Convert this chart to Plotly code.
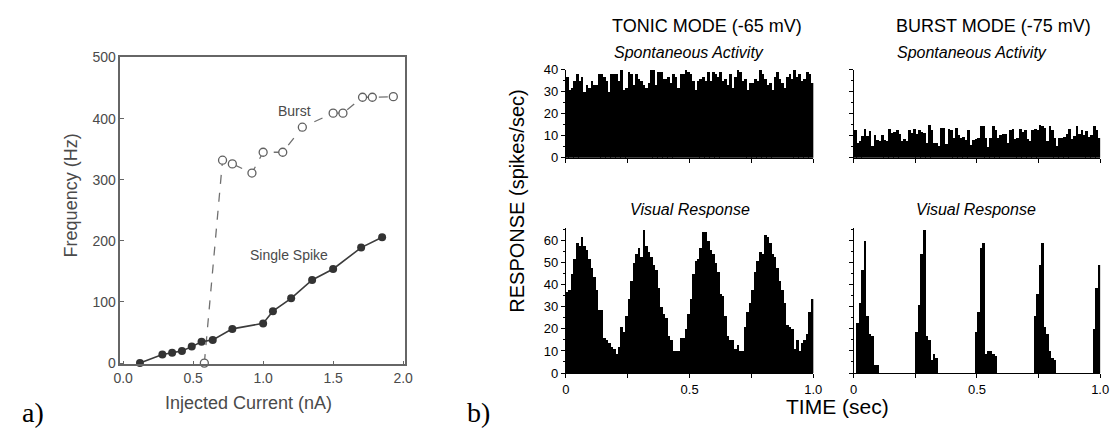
import plotly.graph_objects as go

# ---------------- data ----------------
# Panel a: frequency vs injected current
single_current = [0.12, 0.28, 0.35, 0.42, 0.49, 0.56, 0.64, 0.78, 1.00, 1.07, 1.20, 1.35, 1.50, 1.70, 1.85]
single_freq = [0, 14, 17, 20, 27, 35, 38, 56, 65, 85, 106, 136, 154, 189, 206]
burst_current = [0.58, 0.71, 0.78, 0.92, 1.00, 1.14, 1.28, 1.50, 1.57, 1.71, 1.78, 1.93]
burst_freq = [0, 332, 326, 311, 345, 345, 386, 409, 409, 435, 435, 436]

# Panel b: PSTHs, 100 bins of 10 ms over 1 s
bin_centers = [(i + 0.5) / 100 for i in range(100)]
tonic_spont = [37, 31, 32, 35, 38, 35, 37, 30, 33, 32,
               35, 33, 33, 38, 38, 37, 35, 30, 38, 38,
               38, 35, 40, 31, 32, 39, 38, 33, 38, 36,
               35, 33, 32, 34, 40, 40, 33, 39, 39, 36,
               36, 37, 34, 38, 37, 32, 38, 38, 40, 39,
               38, 35, 31, 35, 36, 37, 35, 39, 35, 39,
               38, 37, 39, 35, 36, 33, 38, 32, 37, 40,
               39, 35, 36, 31, 34, 34, 36, 35, 40, 38,
               36, 33, 34, 31, 37, 39, 36, 34, 32, 37,
               38, 36, 40, 37, 38, 35, 36, 39, 38, 34]
burst_spont = [12.5, 7, 7.8, 10, 13.2, 10, 12.2, 5.6, 10.4, 8,
               7.8, 10.4, 8, 7.5, 13.3, 11.4, 11.9, 12.9, 10.7, 7.8,
               8.5, 7.8, 12.9, 11.4, 13.3, 10.7, 12.9, 11.9, 11.4, 7,
               15, 12.9, 7, 6.6, 5.6, 13.6, 13.6, 6.3, 13.3, 12.9,
               9.2, 13.6, 10.4, 9.2, 9.5, 8, 12.9, 6, 8, 8.5,
               9, 14.7, 14.4, 9.2, 5.1, 9.2, 14.4, 12.9, 9.2, 10.4,
               10.7, 11, 7, 12.5, 13.3, 8.5, 9.2, 13.3, 11.9, 12.5,
               8.5, 7.8, 12.9, 13.3, 12.9, 14.8, 14.4, 13.6, 7.8, 14.4,
               12.9, 9.2, 5.6, 9.2, 9.2, 9.5, 11, 13.3, 8.5, 10,
               14.4, 10.7, 12.9, 10.4, 12.2, 9.5, 10.4, 14.4, 12.9, 9.2]
tonic_visual = [37, 38, 45, 52, 59, 58, 62, 58, 56, 52,
                48, 44, 38, 29, 29, 16, 15, 14, 12, 11,
                9, 12, 21, 19, 26, 34, 42, 50, 54, 57,
                53, 65, 58, 55, 53, 49, 47, 39, 30, 27,
                25, 17, 15, 10, 10, 10, 16, 16, 20, 27,
                34, 45, 51, 52, 57, 64, 64, 60, 56, 54,
                50, 46, 36, 35, 26, 17, 15, 15, 11, 13,
                10, 10, 21, 28, 32, 38, 46, 51, 55, 54,
                63, 62, 59, 54, 53, 48, 42, 38, 32, 22,
                21, 20, 11, 15, 10, 14, 15, 18, 28, 34]
burst_visual = [0, 23, 32, 47, 60, 26, 18, 17, 4, 4,
                0, 0, 0, 0, 0, 0, 0, 0, 0, 0,
                0, 0, 0, 0, 0, 19, 31, 54, 65, 17,
                15, 6, 9, 7, 0, 0, 0, 0, 0, 0,
                0, 0, 0, 0, 0, 0, 0, 0, 0, 19,
                28, 57, 59, 9, 10, 10, 9, 8, 0, 0,
                0, 0, 0, 0, 0, 0, 0, 0, 0, 0,
                0, 0, 0, 26, 36, 49, 59, 21, 18, 10,
                7, 6, 0, 0, 0, 0, 0, 0, 0, 0,
                0, 0, 0, 0, 0, 0, 0, 20, 39, 49]

a_xticks = [0, 0.5, 1.0, 1.5, 2.0]
a_xticklabels = ["0.0", "0.5", "1.0", "1.5", "2.0"]
a_yticks = [0, 100, 200, 300, 400, 500]
b_xticks = [0, 0.25, 0.5, 0.75, 1.0]
b_xticklabels = ["0", "", "0.5", "", "1.0"]

# ---------------- layout helpers ----------------
W, H = 1120, 438
def fx(p):
    return p / W
def fy(p):
    return 1 - p / H

SANS = "Liberation Sans, Arial, sans-serif"
GREY_TXT = "#4a4a4a"

fig = go.Figure()

# Panel a traces
fig.add_trace(go.Scatter(
    x=burst_current, y=burst_freq, mode="lines+markers",
    line=dict(color="#707070", width=1.3, dash="dash"),
    marker=dict(symbol="circle", size=8, color="white", line=dict(color="#606060", width=1.3)),
    xaxis="x", yaxis="y", showlegend=False, cliponaxis=False))
fig.add_trace(go.Scatter(
    x=single_current, y=single_freq, mode="lines+markers",
    line=dict(color="#3c3c3c", width=1.6),
    marker=dict(symbol="circle", size=8, color="#333333"),
    xaxis="x", yaxis="y", showlegend=False, cliponaxis=False))

# Panel b bars (slightly overlapping so no seams appear)
bar_sets = [(tonic_spont, "x2", "y2"), (burst_spont, "x3", "y3"),
            (tonic_visual, "x4", "y4"), (burst_visual, "x5", "y5")]
for vals, xa, ya in bar_sets:
    fig.add_trace(go.Bar(x=bin_centers, y=vals, width=0.0112,
                         marker=dict(color="black", line=dict(width=0)),
                         xaxis=xa, yaxis=ya, showlegend=False))

layout = dict(
    width=W, height=H, margin=dict(l=0, r=0, t=0, b=0),
    paper_bgcolor="white", plot_bgcolor="white",
    bargap=0, showlegend=False,
    font=dict(family=SANS, color="black"),
)

# panel a axes
layout["xaxis"] = dict(domain=[fx(115), fx(404)], range=[-0.02, 2.015], anchor="y",
                       showline=True, mirror=True, linecolor="#666", linewidth=1.5,
                       tickvals=a_xticks, ticktext=a_xticklabels, ticks="inside", ticklen=4,
                       tickcolor="#666", tickfont=dict(size=14, color=GREY_TXT),
                       showgrid=False, zeroline=False)
layout["yaxis"] = dict(domain=[fy(370), fy(51.7)], range=[-2, 501], anchor="x",
                       showline=True, mirror=True, linecolor="#666", linewidth=1.5,
                       tickvals=a_yticks, ticks="inside", ticklen=4, tickcolor="#666",
                       tickfont=dict(size=14, color=GREY_TXT),
                       showgrid=False, zeroline=False)

def b_x(dom, anchor, labels):
    return dict(domain=dom, range=[0, 1], anchor=anchor, showline=True, linecolor="black",
                linewidth=1, tickvals=b_xticks, ticktext=b_xticklabels if labels else [""] * 5,
                ticks="outside", ticklen=4, tickcolor="black", tickfont=dict(size=13),
                showgrid=False, zeroline=False)

def b_y(dom, anchor, rng, dt, labels):
    return dict(domain=dom, range=rng, anchor=anchor, showline=True, linecolor="black",
                linewidth=1, dtick=dt, tick0=0, ticks="outside", ticklen=4, tickcolor="black",
                showticklabels=labels, tickfont=dict(size=13),
                minor=dict(dtick=5, ticks="outside", ticklen=2, tickcolor="black"),
                showgrid=False, zeroline=False)

top_dom = [fy(156), fy(65)]
bot_dom = [fy(379), fy(379 - 66 * 2.283)]
left_dom = [fx(567), fx(818)]
right_dom = [fx(859), fx(1109)]

layout["xaxis2"] = b_x(left_dom, "y2", False)
layout["yaxis2"] = b_y(top_dom, "x2", [0, 40], 10, True)
layout["xaxis3"] = b_x(right_dom, "y3", False)
layout["yaxis3"] = b_y(top_dom, "x3", [0, 40], 10, False)
layout["xaxis4"] = b_x(left_dom, "y4", True)
layout["yaxis4"] = b_y(bot_dom, "x4", [0, 66], 10, True)
layout["xaxis5"] = b_x(right_dom, "y5", True)
layout["yaxis5"] = b_y(bot_dom, "x5", [0, 66], 10, False)

fig.update_layout(**layout)

def ann(text, x, y, size, angle=0, color="black", family=SANS):
    fig.add_annotation(text=text, x=fx(x), y=fy(y), xref="paper", yref="paper",
                       showarrow=False, textangle=angle, xanchor="center", yanchor="middle",
                       borderpad=0, font=dict(size=size, color=color, family=family))

# panel a texts
ann("Frequency (Hz)", 65, 195, 18, angle=-90, color=GREY_TXT)
ann("Injected Current (nA)", 245, 410, 18, color=GREY_TXT)
ann("Burst", 292, 108, 14, color=GREY_TXT)
ann("Single Spike", 286, 257, 14, color=GREY_TXT)
ann("a)", 26, 420, 28, family="Liberation Serif, DejaVu Serif, serif")

# panel b texts
ann("TONIC MODE (-65 mV)", 710, 20, 18)
ann("BURST MODE (-75 mV)", 1001, 20, 18)
ann("<i>Spontaneous Activity</i>", 692, 47, 16)
ann("<i>Spontaneous Activity</i>", 979, 47, 16)
ann("<i>Visual Response</i>", 693, 210, 16)
ann("<i>Visual Response</i>", 983, 210, 16)
ann("RESPONSE (spikes/sec)", 518, 201, 20, angle=-90)
ann("TIME (sec)", 843, 414, 21)
ann("b)", 478, 420, 28, family="Liberation Serif, DejaVu Serif, serif")

fig.write_html("out.html")
